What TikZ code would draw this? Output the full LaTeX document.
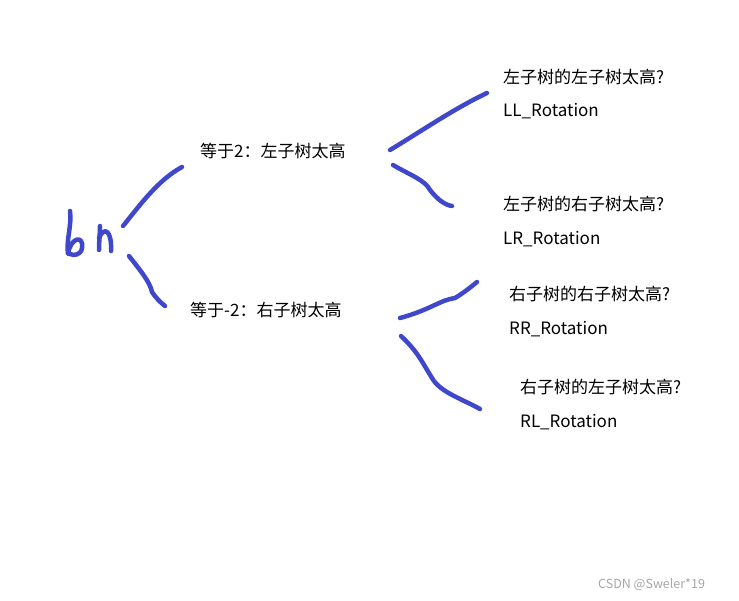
\documentclass[tikz,border=0pt]{standalone}
\usepackage{fontspec}
\setmainfont{Noto Sans CJK SC}
\usetikzlibrary{positioning}
\definecolor{penblue}{RGB}{63,72,204}
\tikzset{
  label/.style={anchor=west, inner sep=0pt, font=\fontsize{17}{20}\selectfont},
  pen/.style={penblue, line width=4.5pt, line cap=round, line join=round}
}
\begin{document}
\begin{tikzpicture}[x=1pt,y=-1pt]
\useasboundingbox (0,0) rectangle (739,600);

% TEXTS
\node[label] (left) at (200,151) {等于2：左子树太高};
\node[label] (right) at (190,310) {等于-2：右子树太高};
\node[label] (llq) at (503,77) {左子树的左子树太高?};
\node[label, below=34pt of llq.west, anchor=west] (ll) {LL\_Rotation};
\node[label] (lrq) at (503,204) {左子树的右子树太高?};
\node[label, below=35pt of lrq.west, anchor=west] (lr) {LR\_Rotation};
\node[label] (rrq) at (509,294) {右子树的右子树太高?};
\node[label, below=35pt of rrq.west, anchor=west] (rr) {RR\_Rotation};
\node[label] (rlq) at (520,387) {右子树的左子树太高?};
\node[label, below=35pt of rlq.west, anchor=west] (rl) {RL\_Rotation};
\node[anchor=west, inner sep=0pt, text=gray!70, font=\fontsize{12.5}{14}\selectfont] (mark) at (598,585) {CSDN @Sweler*19};

% HANDWRITING
\draw[pen] (70,211) .. controls (72,225) and (66,240) .. (68,254)
  .. controls (70,238) and (84,234) .. (82,248) .. controls (81,255) and (74,256) .. (70,254);
\draw[pen] (100,226) .. controls (100,234) and (99,242) .. (99,250);
\draw[pen] (99,238) .. controls (104,226) and (112,230) .. (111,251);

% STROKES
\draw[pen] (123,226) .. controls (140,205) and (158,180) .. (182,167);
\draw[pen] (129,256) .. controls (140,270) and (150,282) .. (152,292) .. controls (156,298) and (160,302) .. (165,306);
\draw[pen] (390,150) .. controls (420,132) and (455,108) .. (487,93);
\draw[pen] (393,165) .. controls (410,175) and (425,180) .. (430,190) .. controls (438,200) and (445,205) .. (452,206);
\draw[pen] (400,318) .. controls (430,310) and (440,300) .. (455,298) .. controls (465,292) and (472,286) .. (477,282);
\draw[pen] (401,336) .. controls (418,352) and (422,362) .. (432,378) .. controls (440,392) and (460,398) .. (480,409);
\end{tikzpicture}
\end{document}
